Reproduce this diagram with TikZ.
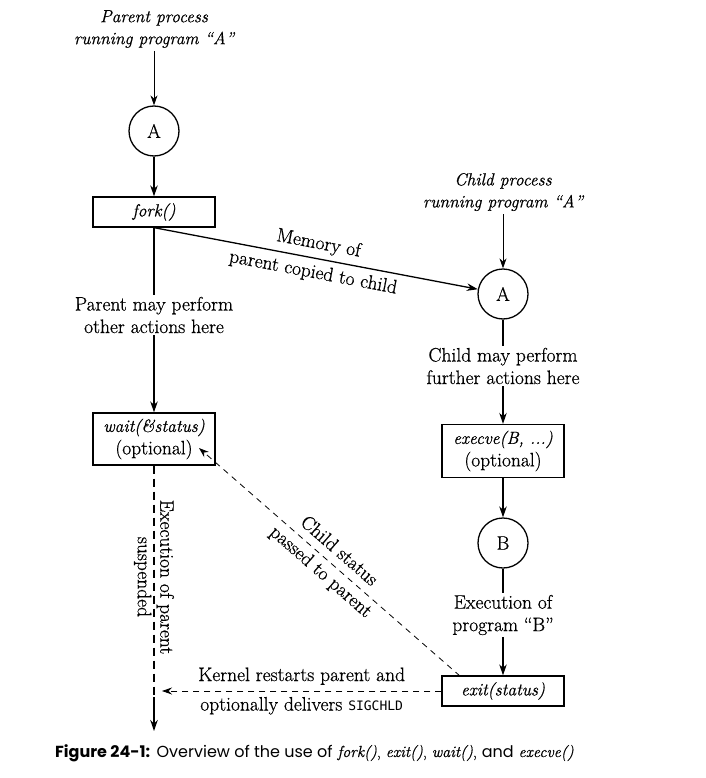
\documentclass[tikz,border=0pt]{standalone}
\usepackage{fontspec}
\setmainfont{Latin Modern Roman}[FakeBold=0.7]
\usetikzlibrary{arrows.meta}
\newfontfamily\capsans{Poppins}
\newfontfamily\sigmono{DejaVu Sans Mono}
\newcommand\dfont{\fontsize{19.5}{22.5}\selectfont}
\newcommand\ifont{\fontsize{17.5}{22}\selectfont\itshape}
\begin{document}
\begin{tikzpicture}[x=1pt,y=-1pt,
  every node/.style={font=\dfont, text=black},
  procnode/.style={circle, draw, line width=1.3pt, minimum size=50pt, inner sep=0pt},
  callbox/.style={draw, line width=1.3pt, minimum width=122pt, align=center, inner sep=0pt},
  note/.style={align=center, inner sep=3pt},
  flow/.style={line width=1.3pt},
  flowarr/.style={flow, -{Stealth[length=11pt,width=7.5pt]}},
  thinarr/.style={line width=0.9pt, -{Stealth[length=10pt,width=7pt]}},
  statusline/.style={line width=0.8pt, dash pattern=on 6pt off 5pt},
  suspended/.style={line width=1.3pt, dash pattern=on 8pt off 5pt},
]
\useasboundingbox (0,0) rectangle (705,778);

% ---- parent column ----
\node[note, font=\ifont] (ptitle) at (154,29) {Parent process\\running program “A”};
\node[procnode] (pA) at (154,131) {A};
\node[callbox, minimum height=30pt, font=\ifont] (fork) at (154,212) {fork()};
\node[note, inner sep=2pt] (ptext) at (154,315) {Parent may perform\\other actions here};
\node[callbox, minimum height=52pt] (wait) at (154,439) {{\ifont wait(\&status)}\\(optional)};
\node[note, rotate=-90] (psusp) at (154,577) {Execution of parent\\suspended};
\coordinate (pbend) at (154,697);
\coordinate (pend) at (154,731);

\draw[thinarr] (ptitle.south) -- (pA.north);
\draw[flowarr] (pA.south) -- (fork.north);
\draw[flow] (fork.south) -- (ptext.north);
\draw[flowarr] (ptext.south) -- (wait.north);
\draw[suspended] (wait.south) -- (pbend);
\draw[flowarr] (pbend) -- (pend);

% ---- child column ----
\node[note, font=\ifont] (ctitle) at (503,192) {Child process\\running program “A”};
\node[procnode] (cA) at (503,294) {A};
\node[note, inner sep=2pt] (ctext) at (503,366) {Child may perform\\further actions here};
\node[callbox, minimum height=53pt] (execve) at (503,451) {{\ifont execve(B, ...)}\\(optional)};
\node[procnode] (cB) at (503,543) {B};
\node[note, inner sep=2pt] (btext) at (503,615) {Execution of\\program “B”};
\node[callbox, minimum height=30pt, font=\ifont] (exit) at (503,691) {exit(status)};

\draw[thinarr] (ctitle.south) -- (cA.north);
\draw[flow] (cA.south) -- (ctext.north);
\draw[flowarr] (ctext.south) -- (execve.north);
\draw[flowarr] (execve.south) -- (cB.north);
\draw[flow] (cB.south) -- (btext.north);
\draw[flowarr] (btext.south) -- (exit.north);

% ---- connectors between the processes ----
\draw[flowarr] (fork.south) -- node[sloped, align=center] {Memory of\\[7pt]parent copied to child} (cA);

\coordinate (cstat) at (460,676);
\coordinate (wstat) at (199,448);
\draw[statusline, -{Stealth[length=10pt,width=7pt]}] (cstat) -- node[sloped, align=center] {Child status\\[5pt]passed to parent} (wstat);

\coordinate (krest) at (162,691);
\draw[statusline, -{Stealth[length=10pt,width=7pt]}] (exit.west) -- node[align=center] {Kernel restarts parent and\\[7pt]optionally delivers {\sigmono\fontsize{13}{15}\selectfont SIGCHLD}} (krest);

% ---- caption ----
\node[anchor=base west, inner sep=0pt, font=\fontsize{16}{19}\selectfont] (caption) at (55,757)
  {{\capsans\bfseries Figure 24-1:} {\capsans Overview of the use of} \textit{fork()}, \textit{exit()}, \textit{wait()}, {\capsans and} \textit{execve()}};
\end{tikzpicture}
\end{document}
